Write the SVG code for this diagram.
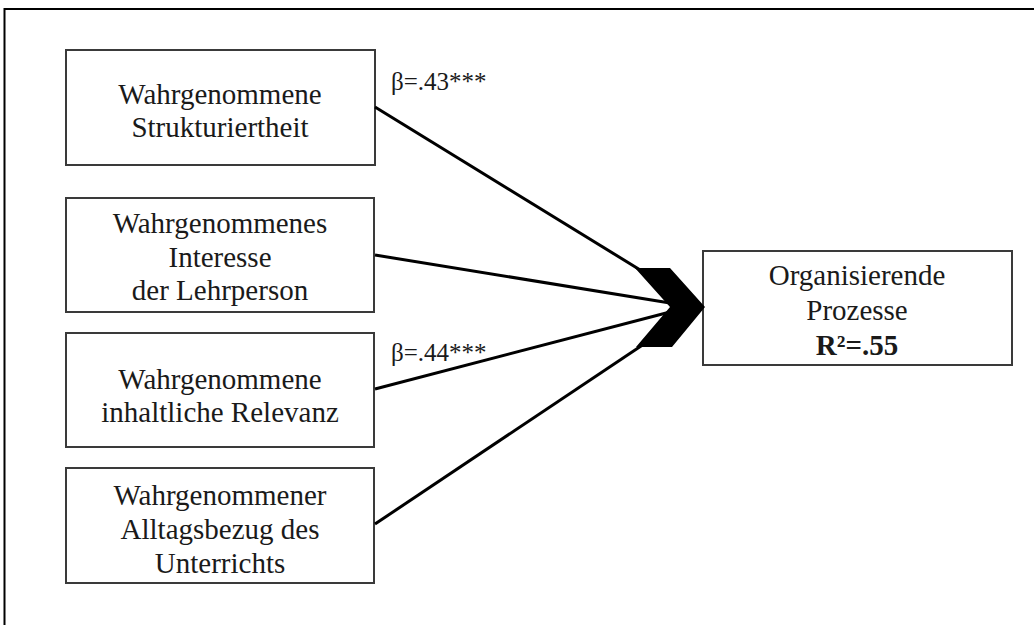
<svg xmlns="http://www.w3.org/2000/svg" width="1034" height="625" viewBox="0 0 1034 625">
<style>
.box{fill:#fff;stroke:#3a3a3a;stroke-width:2}
.t{font-family:"Liberation Serif","Times New Roman",serif;font-size:29px;fill:#1a1a1a;text-anchor:middle}
.b{font-family:"Liberation Serif","Times New Roman",serif;font-size:25px;fill:#1a1a1a}
.c{stroke:#000;stroke-width:3;fill:none}
</style>
<rect width="1034" height="625" fill="#fff"/>
<path d="M4.5,625 V9 H1034" fill="none" stroke="#000" stroke-width="2"/>
<g id="n1"><rect class="box" x="66" y="50" width="309" height="115"/>
<text class="t" x="220" y="104">Wahrgenommene</text><text class="t" x="220" y="137">Strukturiertheit</text></g>
<g id="n2"><rect class="box" x="66" y="198" width="308" height="114"/>
<text class="t" x="220" y="233">Wahrgenommenes</text><text class="t" x="220" y="267">Interesse</text><text class="t" x="220" y="300">der Lehrperson</text></g>
<g id="n3"><rect class="box" x="66" y="333" width="308" height="114"/>
<text class="t" x="220" y="389">Wahrgenommene</text><text class="t" x="220" y="422">inhaltliche Relevanz</text></g>
<g id="n4"><rect class="box" x="66" y="468" width="308" height="115"/>
<text class="t" x="220" y="505">Wahrgenommener</text><text class="t" x="220" y="539">Alltagsbezug des</text><text class="t" x="220" y="573">Unterrichts</text></g>
<g id="n5"><rect class="box" x="703" y="251" width="309" height="114"/>
<text class="t" x="857" y="285">Organisierende</text><text class="t" x="857" y="320">Prozesse</text><text class="t" x="857" y="355" font-weight="bold">R²=.55</text></g>
<g id="connectors">
<line class="c" x1="375" y1="107" x2="650" y2="276"/>
<line class="c" x1="375" y1="255" x2="670" y2="303"/>
<line class="c" x1="375" y1="389" x2="670" y2="312"/>
<line class="c" x1="375" y1="524" x2="650" y2="340"/>
<polygon points="635,268 670,268 705,307 672,347 636,347 670,307" fill="#000"/>
</g>
<g id="labels">
<text class="b" x="391" y="90">β=.43***</text>
<text class="b" x="391" y="361">β=.44***</text>
</g>
</svg>
